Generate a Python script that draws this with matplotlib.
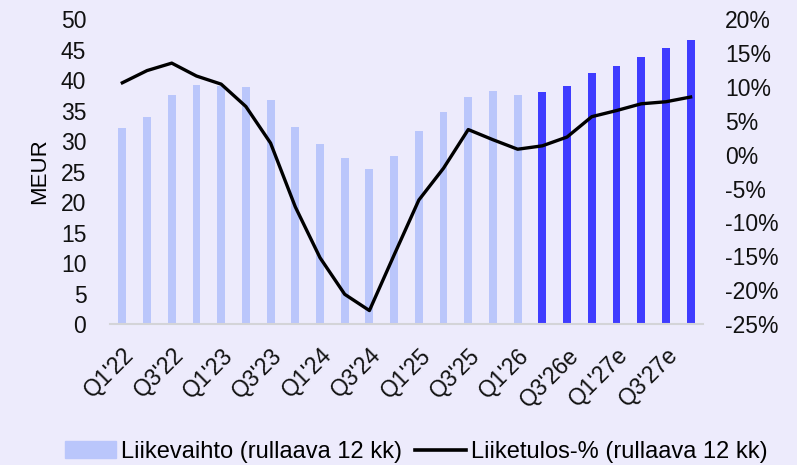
import numpy as np
import matplotlib.pyplot as plt
from matplotlib.patches import Patch
from matplotlib.lines import Line2D

plt.rcParams['font.family'] = ['Liberation Sans', 'DejaVu Sans']

quarters = ["Q1'22", "Q2'22", "Q3'22", "Q4'22", "Q1'23", "Q2'23", "Q3'23", "Q4'23",
            "Q1'24", "Q2'24", "Q3'24", "Q4'24", "Q1'25", "Q2'25", "Q3'25", "Q4'25",
            "Q1'26", "Q2'26e", "Q3'26e", "Q4'26e", "Q1'27e", "Q2'27e", "Q3'27e", "Q4'27e"]
revenue = [32.1, 33.9, 37.6, 39.2, 39.0, 38.9, 36.7, 32.3, 29.6, 27.2, 25.5, 27.6,
           31.6, 34.8, 37.2, 38.2, 37.6, 38.1, 39.0, 41.2, 42.3, 43.8, 45.3, 46.5]
ebit_pct = [10.6, 12.4, 13.5, 11.6, 10.4, 7.1, 1.7, -7.7, -15.2, -20.6, -23.0, -14.8,
            -6.7, -2.0, 3.7, 2.2, 0.8, 1.3, 2.6, 5.6, 6.5, 7.5, 7.8, 8.5]
n_actual = 17

bg = '#edebfc'
light = '#bac6fb'
dark = '#3f3cff'
fs = 16.5

fig = plt.figure(figsize=(7.97, 4.65), dpi=100, facecolor=bg)
ax = fig.add_axes([0.138, 0.303, 0.744, 0.656])
ax.set_facecolor(bg)
x = np.arange(len(quarters))
colors = [light] * n_actual + [dark] * (len(quarters) - n_actual)
ax.bar(x, revenue, width=0.32, color=colors, zorder=2)
ax.set_ylim(0, 50)
ax.set_xlim(-0.5, len(quarters) - 0.5)
ax.set_yticks(range(0, 51, 5))
ax.set_xticks(x[::2])
ax.set_xticklabels(quarters[::2], rotation=45, ha='right', rotation_mode='anchor')
ax.tick_params(axis='both', length=0, labelsize=fs, colors='#111111')
ax.tick_params(axis='y', pad=17)
ax.tick_params(axis='x', pad=14)
ax.set_ylabel('MEUR', fontsize=16, labelpad=8)
for s in ['top', 'right', 'left']:
    ax.spines[s].set_visible(False)
ax.spines['bottom'].set_color('#d4d4d8')
ax.spines['bottom'].set_linewidth(1.5)

ax2 = ax.twinx()
ax2.plot(x, ebit_pct, color='black', lw=2.4, zorder=3)
ax2.set_ylim(-25, 20)
ax2.set_yticks(range(-25, 21, 5))
ax2.set_yticklabels([f'{v}%' for v in range(-25, 21, 5)])
ax2.tick_params(axis='y', length=0, labelsize=fs, colors='#111111', pad=16)
for s in ax2.spines.values():
    s.set_visible(False)

handles = [Patch(color=light), Line2D([0], [0], color='black', lw=2.6)]
labels = ['Liikevaihto (rullaava 12 kk)', 'Liiketulos-% (rullaava 12 kk)']
fig.legend(handles, labels, loc='center left', bbox_to_anchor=(0.082, 0.028), ncol=2,
           frameon=False, fontsize=17, handlelength=2.15, handleheight=0.75,
           handletextpad=0.21, columnspacing=0.55, borderaxespad=0, borderpad=0)

fig.savefig('out.png', dpi=100, facecolor=bg)
